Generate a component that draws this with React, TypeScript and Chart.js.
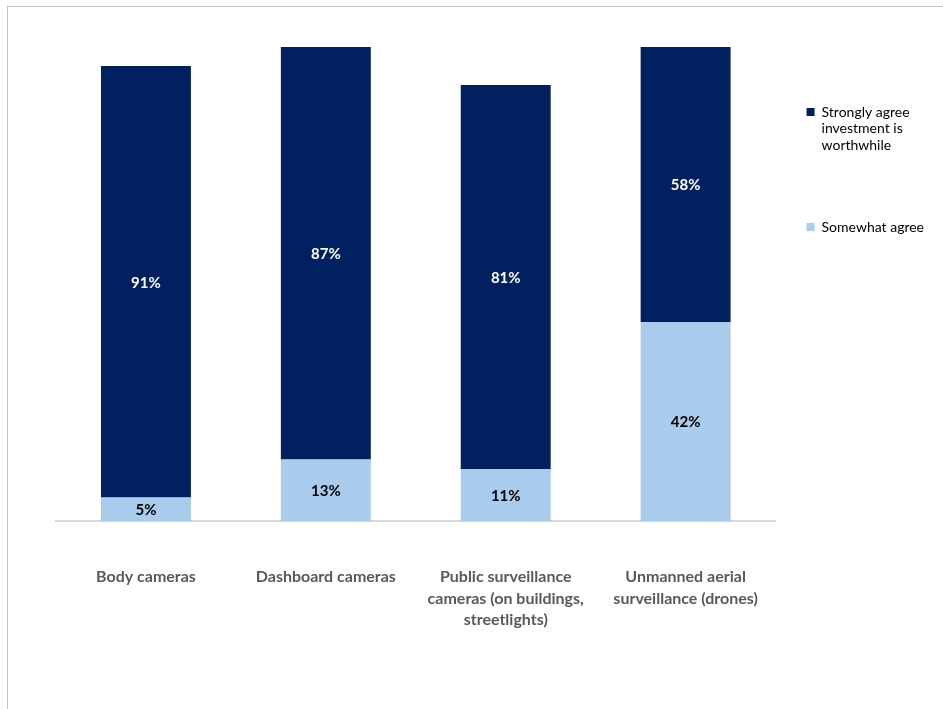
import React, { useEffect, useRef } from "react";
import { Chart, registerables } from "chart.js";

Chart.register(...registerables);

const categories: string[][] = [
  ["Body cameras"],
  ["Dashboard cameras"],
  ["Public surveillance", "cameras (on buildings,", "streetlights)"],
  ["Unmanned aerial", "surveillance (drones)"],
];
const somewhatAgree = [5, 13, 11, 42];
const stronglyAgree = [91, 87, 81, 58];
const seriesNames = ["Somewhat agree", "Strongly agree investment is worthwhile"];
const legendLines: string[][] = [
  ["Somewhat agree"],
  ["Strongly agree", "investment is", "worthwhile", "", ""],
];
const yMin = 0;
const yMax = 100;

const DARK = "#002060";
const LIGHT = "#A9CBEC";
const FONT = "Lato, 'Open Sans', sans-serif";

const segmentLabels = {
  id: "segmentLabels",
  afterDatasetsDraw(chart: any) {
    const ctx = chart.ctx;
    chart.data.datasets.forEach((ds: any, di: number) => {
      const meta = chart.getDatasetMeta(di);
      meta.data.forEach((bar: any, i: number) => {
        const p = bar.getProps(["x", "y", "base"], true);
        ctx.save();
        ctx.font = `bold 15px ${FONT}`;
        ctx.fillStyle = di === 1 ? "#ffffff" : "#000000";
        ctx.textAlign = "center";
        ctx.textBaseline = "middle";
        ctx.fillText(`${ds.data[i]}%`, p.x, (p.y + p.base) / 2 + 1);
        ctx.restore();
      });
    });
  },
};

export default function App() {
  const ref = useRef<HTMLCanvasElement | null>(null);

  useEffect(() => {
    if (!ref.current) return;
    const chart = new Chart(ref.current, {
      type: "bar",
      data: {
        labels: categories as any,
        datasets: [
          {
            label: seriesNames[0],
            data: somewhatAgree,
            backgroundColor: LIGHT,
            borderWidth: 0,
            categoryPercentage: 1,
            barPercentage: 0.5,
          },
          {
            label: seriesNames[1],
            data: stronglyAgree,
            backgroundColor: DARK,
            borderWidth: 0,
            categoryPercentage: 1,
            barPercentage: 0.5,
          },
        ],
      },
      options: {
        responsive: false,
        animation: false,
        layout: { padding: { left: 56, top: 47, right: 9, bottom: 33 } },
        scales: {
          x: {
            stacked: true,
            grid: { display: false, drawTicks: false },
            border: { display: true, color: "#d9d9d9", width: 2 },
            ticks: {
              autoSkip: false,
              maxRotation: 0,
              padding: 45,
              color: "#595959",
              font: { family: FONT, size: 16, weight: "bold", lineHeight: 1.35 },
            },
          },
          y: {
            stacked: true,
            display: false,
            min: yMin,
            max: yMax,
          },
        },
        plugins: {
          tooltip: { enabled: false },
          legend: {
            position: "right",
            align: "start",
            reverse: true,
            title: { display: true, text: "", font: { size: 10, lineHeight: 1.2 }, padding: { top: 15, bottom: 0 } },
            labels: {
              boxWidth: 8,
              boxHeight: 8,
              padding: 31,
              color: "#000000",
              font: { family: FONT, size: 14, lineHeight: 1.2 },
              generateLabels: (c: any) => {
                const items = (Chart.defaults.plugins.legend.labels as any).generateLabels(c);
                return items.map((it: any) => ({
                  ...it,
                  text: legendLines[it.datasetIndex],
                  lineWidth: 0,
                }));
              },
            },
          },
        },
      },
      plugins: [segmentLabels],
    });
    return () => chart.destroy();
  }, []);

  return (
    <div style={{ position: "fixed", left: 0, top: 0, width: 943, height: 709, overflow: "hidden", background: "#fff" }}>
      <div
        style={{
          position: "absolute",
          left: 7,
          top: 6,
          width: 2000,
          height: 2000,
          borderLeft: "1px solid #c4c4c4",
          borderTop: "1px solid #c4c4c4",
        }}
      />
      <canvas ref={ref} width={943} height={709} style={{ position: "absolute", left: 0, top: 0, width: 943, height: 709 }} />
    </div>
  );
}
